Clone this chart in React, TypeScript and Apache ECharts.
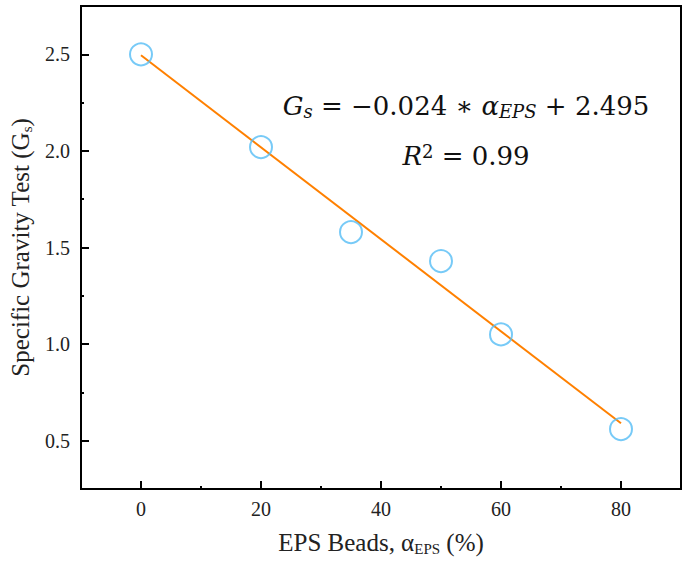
import React, { useEffect, useRef } from "react";
import * as echarts from "echarts";

const epsPercent = [0, 20, 35, 50, 60, 80];
const specificGravity = [2.5, 2.02, 1.58, 1.43, 1.05, 0.56];
const fitX = [0, 80];
const fitY = [2.495, 0.59];
const xMajorTicks = [0, 20, 40, 60, 80];
const xMinorTicks = [10, 30, 50, 70];
const yMajorTicks = [0.5, 1.0, 1.5, 2.0, 2.5];
const yMinorTicks = [0.75, 1.25, 1.75, 2.25];

const FONT = "Liberation Serif";
const EQ_FONT = "DejaVu Serif";

export default function App() {
  const ref = useRef<HTMLDivElement>(null);
  useEffect(() => {
    if (!ref.current) return;
    const chart = echarts.init(ref.current, null, { renderer: "svg" });
    const axisLine = { show: true, onZero: false, lineStyle: { color: "#000", width: 2 } };
    const option = {
      animation: false,
      backgroundColor: "#fff",
      grid: {
        left: 81,
        right: 8,
        top: 6,
        bottom: 72,
        show: true,
        borderColor: "#000",
        borderWidth: 2,
        containLabel: false,
        outerBoundsMode: "none",
      },
      xAxis: [
        {
          type: "value",
          min: -10,
          max: 90,
          axisLine,
          splitLine: { show: false },
          axisTick: {
            inside: true,
            length: 8,
            customValues: xMajorTicks,
            lineStyle: { color: "#000", width: 2 },
          },
          axisLabel: {
            customValues: xMajorTicks,
            margin: 10,
            fontFamily: FONT,
            fontSize: 20,
            color: "#222",
          },
          name: "EPS Beads, {g|α}{sub|EPS} (%)",
          nameLocation: "middle",
          nameGap: 39,
          nameTextStyle: {
            fontFamily: FONT,
            fontSize: 25,
            color: "#222",
            rich: {
              g: { fontFamily: FONT, fontSize: 25, color: "#222" },
              sub: {
                fontFamily: FONT,
                fontSize: 15,
                color: "#222",
                verticalAlign: "bottom",
                padding: [13, 0, 0, 0],
              },
            },
          },
        },
        {
          type: "value",
          min: -10,
          max: 90,
          position: "bottom",
          axisLine: { show: false, onZero: false },
          splitLine: { show: false },
          axisTick: {
            inside: true,
            length: 3,
            customValues: xMinorTicks,
            lineStyle: { color: "#000", width: 2 },
          },
          axisLabel: { show: false },
        },
      ],
      yAxis: [
        {
          type: "value",
          min: 0.25,
          max: 2.75,
          axisLine,
          splitLine: { show: false },
          axisTick: {
            inside: true,
            length: 8,
            customValues: yMajorTicks,
            lineStyle: { color: "#000", width: 2 },
          },
          axisLabel: {
            customValues: yMajorTicks,
            margin: 11,
            fontFamily: FONT,
            fontSize: 20,
            color: "#222",
            formatter: (v: number) => v.toFixed(1),
          },
          name: "Specific Gravity Test (G{sub|s})",
          nameLocation: "middle",
          nameGap: 45,
          nameTextStyle: {
            fontFamily: FONT,
            fontSize: 25,
            color: "#222",
            rich: {
              sub: {
                fontFamily: FONT,
                fontSize: 15,
                color: "#222",
                verticalAlign: "bottom",
                padding: [13, 0, 0, 0],
              },
            },
          },
        },
        {
          type: "value",
          min: 0.25,
          max: 2.75,
          position: "left",
          axisLine: { show: false, onZero: false },
          splitLine: { show: false },
          axisTick: {
            inside: true,
            length: 3,
            customValues: yMinorTicks,
            lineStyle: { color: "#000", width: 2 },
          },
          axisLabel: { show: false },
        },
      ],
      series: [
        {
          type: "line",
          data: fitX.map((x, i) => [x, fitY[i]]),
          showSymbol: false,
          symbol: "none",
          lineStyle: { color: "#FF8000", width: 2 },
          z: 3,
        },
        {
          type: "scatter",
          data: epsPercent.map((x, i) => [x, specificGravity[i]]),
          symbol: "circle",
          symbolSize: 22,
          itemStyle: { color: "rgba(0,0,0,0)", borderColor: "#55BDF5", borderWidth: 2 },
          z: 4,
        },
      ],
      graphic: [
        {
          type: "text",
          x: 466,
          y: 106,
          style: {
            text: "{i|G}{isub|s}{n| = −0.024 }{a|∗}{n| }{i|α}{isub|EPS}{n| + 2.495}",
            align: "center",
            verticalAlign: "middle",
            fill: "#111",
            rich: {
              i: { fontFamily: EQ_FONT, fontStyle: "italic", fontSize: 26, fill: "#111" },
              isub: {
                fontFamily: EQ_FONT,
                fontStyle: "italic",
                fontSize: 18,
                fill: "#111",
                verticalAlign: "bottom",
                padding: [10, 0, 0, 0],
              },
              a: { fontFamily: EQ_FONT, fontSize: 26, fill: "#111" },
              n: { fontFamily: EQ_FONT, fontSize: 26, fill: "#111" },
            },
          },
        },
        {
          type: "text",
          x: 466,
          y: 156,
          style: {
            text: "{i|R}{sup|2}{n| = 0.99}",
            align: "center",
            verticalAlign: "middle",
            fill: "#111",
            rich: {
              i: { fontFamily: EQ_FONT, fontStyle: "italic", fontSize: 26, fill: "#111" },
              sup: {
                fontFamily: EQ_FONT,
                fontSize: 18,
                fill: "#111",
                verticalAlign: "top",
                padding: [0, 0, 10, 0],
              },
              n: { fontFamily: EQ_FONT, fontSize: 26, fill: "#111" },
            },
          },
        },
      ],
    };
    chart.setOption(option as any);
    return () => chart.dispose();
  }, []);
  return (
    <div
      ref={ref}
      style={{ position: "fixed", left: 0, top: 0, width: 689, height: 561 }}
    />
  );
}
